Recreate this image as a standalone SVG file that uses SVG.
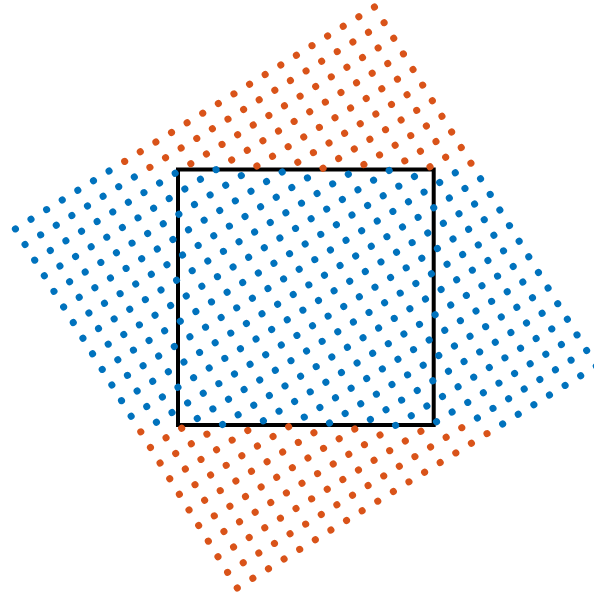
<svg xmlns="http://www.w3.org/2000/svg" width="594" height="594" viewBox="0 0 594 594">
<style>
.dots{fill:none;stroke-width:0.385;stroke-linecap:round;stroke-dasharray:0 1}
.blue{stroke:#0072BD}
.orange{stroke:#D95319}
</style>
<rect width="594" height="594" fill="#ffffff"/>
<rect id="frame" x="178" y="169.5" width="255.7" height="255.5" fill="none" stroke="#000000" stroke-width="4"/>
<g id="lattice" transform="matrix(15.611,-9.646,9.646,15.611,15.39,228.9)">
<path id="blue-dots" class="dots blue" d="M0 0H6.01M0 1H7.01M0 2H9.01M0 3H11.01M0 4H12.01M0 5H14.01M0 6H15.01M0 7H17.01M0 8H19.01M0 9H20.01M0 10H22.01M0 11H23.01M0 12H23.01M1 13H23.01M3 14H23.01M4 15H23.01M6 16H23.01M8 17H23.01M9 18H23.01M11 19H23.01M12 20H23.01M14 21H23.01M16 22H23.01M17 23H23.01"/>
<path id="orange-dots" class="dots orange" d="M7 0H23.01M8 1H23.01M10 2H23.01M12 3H23.01M13 4H23.01M15 5H23.01M16 6H23.01M18 7H23.01M20 8H23.01M21 9H23.01M23 10H23.01M0 13H0.01M0 14H2.01M0 15H3.01M0 16H5.01M0 17H7.01M0 18H8.01M0 19H10.01M0 20H11.01M0 21H13.01M0 22H15.01M0 23H16.01"/>
</g>
</svg>
